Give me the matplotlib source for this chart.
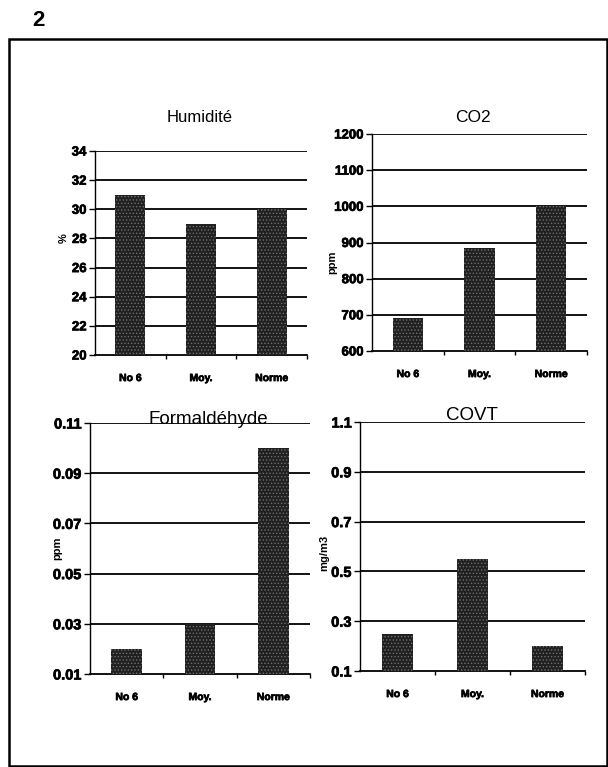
import matplotlib
matplotlib.use("Agg")
import matplotlib.pyplot as plt
import matplotlib.patheffects as pe
import numpy as np
from matplotlib.patches import Rectangle

plt.rcParams['font.family'] = ['Liberation Sans', 'DejaVu Sans']
plt.rcParams['hatch.linewidth'] = 0.6

categories = ["No 6", "Moy.", "Norme"]

humidite = [31, 29, 30]
co2 = [690, 885, 1000]
formaldehyde = [0.02, 0.03, 0.10]
covt = [0.25, 0.55, 0.20]

humidite_ticks = [20, 22, 24, 26, 28, 30, 32, 34]
co2_ticks = [600, 700, 800, 900, 1000, 1100, 1200]
formaldehyde_ticks = [0.01, 0.03, 0.05, 0.07, 0.09, 0.11]
covt_ticks = [0.1, 0.3, 0.5, 0.7, 0.9, 1.1]

heavy = [pe.withStroke(linewidth=0.5, foreground='black')]

fig = plt.figure(figsize=(6.08, 7.67), dpi=100)

# outer frame and page number
fig.patches.append(Rectangle((9 / 608, 1 - 766 / 767), 598 / 608, 727 / 767,
                             transform=fig.transFigure, fill=False,
                             edgecolor='black', linewidth=1.8))
fig.text(38 / 608, 1 - 21 / 767, "2", fontsize=16, fontweight='bold',
         ha='center', va='center')


def panel(rect, values, ticks, ticklabels, ylabel, title, title_xy,
          title_fs, tick_fs, ylabel_xy):
    ax = fig.add_axes(rect)
    x = np.arange(len(categories))
    ax.bar(x, values, width=0.42, bottom=0, color='#202020',
           edgecolor='#707070', hatch='.....', linewidth=0, zorder=3)
    ax.set_xlim(-0.5, 2.5)
    ax.set_ylim(ticks[0], ticks[-1])
    ax.set_yticks(ticks)
    ax.set_yticklabels(ticklabels, fontsize=tick_fs, fontweight='bold')
    for t in ticks[1:]:
        ax.axhline(t, color='black', linewidth=1.3, zorder=2)
    ax.set_xticks(x)
    ax.set_xticklabels(categories, fontsize=7.5, fontweight='bold')
    for lbl in ax.get_xticklabels() + ax.get_yticklabels():
        lbl.set_path_effects(heavy)
    ax.set_xticks([0.5, 1.5, 2.5], minor=True)
    ax.tick_params(axis='x', which='major', length=0, pad=13)
    ax.tick_params(axis='x', which='minor', length=3, width=1,
                   direction='out', color='black')
    ax.tick_params(axis='y', length=4, width=1, direction='out', pad=2)
    for s in ('top', 'right'):
        ax.spines[s].set_visible(False)
    ax.spines['left'].set_linewidth(1.0)
    ax.spines['bottom'].set_linewidth(1.3)
    ax.set_facecolor('none')
    fig.text(ylabel_xy[0] / 608, 1 - ylabel_xy[1] / 767, ylabel,
             rotation=90, fontsize=8, fontweight='bold',
             ha='center', va='center')
    fig.text(title_xy[0] / 608, 1 - title_xy[1] / 767, title,
             fontsize=title_fs, ha='center', va='center')
    return ax


panel([95 / 608, 1 - 355 / 767, 212 / 608, 204 / 767], humidite,
      humidite_ticks, [str(t) for t in humidite_ticks], "%",
      "Humidité", (200, 118), 12, 9.5, (64, 238))

panel([372 / 608, 1 - 351 / 767, 215 / 608, 217 / 767], co2,
      co2_ticks, [str(t) for t in co2_ticks], "ppm",
      "CO2", (473, 117), 12.5, 9.5, (332, 262))

panel([90 / 608, 1 - 674 / 767, 220 / 608, 251 / 767], formaldehyde,
      formaldehyde_ticks, ["%.2f" % t for t in formaldehyde_ticks], "ppm",
      "Formaldéhyde", (208, 419), 13.5, 10.5, (57, 548))

panel([360 / 608, 1 - 671 / 767, 225 / 608, 249 / 767], covt,
      covt_ticks, ["%.1f" % t for t in covt_ticks], "mg/m3",
      "COVT", (472, 415), 13.5, 10.5, (324, 553))

fig.savefig("out.png", dpi=100)
